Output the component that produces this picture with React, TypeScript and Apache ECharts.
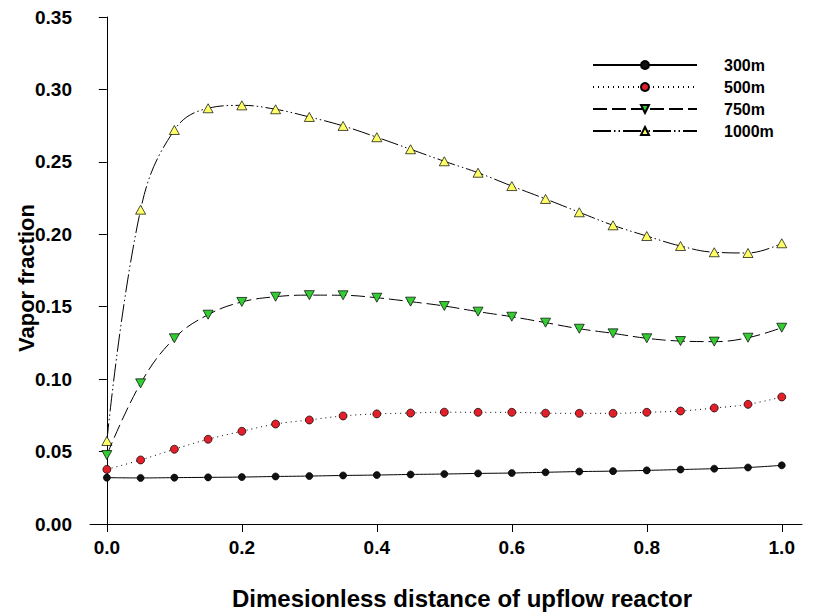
import React, { useEffect, useRef } from "react";
import * as echarts from "echarts";

const xPositions = [0, 0.05, 0.1, 0.15, 0.2, 0.25, 0.3, 0.35, 0.4, 0.45, 0.5, 0.55, 0.6, 0.65, 0.7, 0.75, 0.8, 0.85, 0.9, 0.95, 1.0];

const v300 = [0.032, 0.0318, 0.032, 0.0322, 0.0324, 0.0328, 0.0331, 0.0335, 0.0338, 0.0342, 0.0345, 0.0349, 0.0352, 0.0357, 0.0362, 0.0365, 0.037, 0.0376, 0.0382, 0.039, 0.0405];
const v500 = [0.0377, 0.0442, 0.0516, 0.0585, 0.064, 0.069, 0.0718, 0.0746, 0.076, 0.0766, 0.0772, 0.0771, 0.0771, 0.0765, 0.0764, 0.0764, 0.0771, 0.078, 0.0801, 0.0826, 0.0877];
const v750 = [0.0476, 0.0971, 0.1282, 0.1445, 0.1533, 0.1569, 0.158, 0.1579, 0.1562, 0.1535, 0.1505, 0.1466, 0.1431, 0.139, 0.1348, 0.1316, 0.1282, 0.1263, 0.1259, 0.1286, 0.1355];
const v1000 = [0.0573, 0.217, 0.272, 0.287, 0.289, 0.2863, 0.281, 0.2748, 0.267, 0.2587, 0.2504, 0.2425, 0.2333, 0.2244, 0.2152, 0.2062, 0.1988, 0.1919, 0.1876, 0.1871, 0.1938];

const seriesNames = ["300m", "500m", "750m", "1000m"];
const xTickValues = [0, 0.2, 0.4, 0.6, 0.8, 1.0];

const FONT = "'Liberation Sans', Arial, sans-serif";

export default function App() {
  const ref = useRef<HTMLDivElement>(null);

  useEffect(() => {
    document.body.style.margin = "0";
    if (!ref.current) return;
    const chart = echarts.init(ref.current, null, { renderer: "svg" });
    const toPairs = (vals: number[]) => xPositions.map((x, i) => [x, vals[i]]);

    const invTri = "path://M0,0L10,0L5,9Z";
    const upTri = "path://M5,0L10,9L0,9Z";

    chart.setOption({
      animation: false,
      backgroundColor: "#ffffff",
      grid: { left: 90, right: 14, top: 17, bottom: 91, containLabel: false, outerBoundsMode: "none" },
      legend: {
        orient: "vertical",
        left: 587,
        top: 52,
        itemWidth: 104,
        itemHeight: 10,
        itemGap: 6,
        data: seriesNames,
        textStyle: {
          fontFamily: FONT,
          fontWeight: "bold",
          fontSize: 16,
          color: "#000",
          lineHeight: 16,
          padding: [0, 0, 0, 22],
        },
      },
      xAxis: {
        type: "value",
        min: -0.025,
        max: 1.03,
        splitLine: { show: false },
        axisLine: { show: true, onZero: true, lineStyle: { color: "#000", width: 1 } },
        axisTick: { show: true, length: 8, customValues: xTickValues, lineStyle: { color: "#000" } },
        axisLabel: {
          customValues: xTickValues,
          formatter: (v: number) => v.toFixed(1),
          margin: 14,
          fontFamily: FONT,
          fontWeight: "bold",
          fontSize: 19,
          color: "#000",
        },
        name: "Dimesionless distance of upflow reactor",
        nameLocation: "middle",
        nameGap: 62,
        nameTextStyle: {
          fontFamily: FONT,
          fontWeight: "bold",
          fontSize: 24,
          color: "#000",
          padding: [0, 0, 0, 32],
        },
      },
      yAxis: {
        type: "value",
        min: 0,
        max: 0.35,
        interval: 0.05,
        splitLine: { show: false },
        axisLine: { show: true, onZero: true, lineStyle: { color: "#000", width: 1 } },
        axisTick: { show: true, length: 8, lineStyle: { color: "#000" } },
        axisLabel: {
          formatter: (v: number) => v.toFixed(2),
          margin: 18,
          fontFamily: FONT,
          fontWeight: "bold",
          fontSize: 19,
          color: "#000",
        },
        name: "Vapor fraction",
        nameLocation: "middle",
        nameGap: 53,
        nameRotate: 90,
        nameMoveOverlap: false,
        nameTextStyle: {
          fontFamily: FONT,
          fontWeight: "bold",
          fontSize: 22,
          color: "#000",
          padding: [0, 15, 0, 0],
        },
      },
      series: [
        {
          name: seriesNames[0],
          type: "line",
          data: toPairs(v300),
          smooth: 0.4,
          symbol: "circle",
          symbolSize: 7,
          lineStyle: { color: "#000", width: 1, type: "solid" },
          itemStyle: { color: "#111", borderColor: "#000", borderWidth: 0.7 },
          z: 4,
        },
        {
          name: seriesNames[1],
          type: "line",
          data: toPairs(v500),
          smooth: 0.4,
          symbol: "circle",
          symbolSize: 8,
          lineStyle: { color: "#000", width: 1, type: [1, 4] },
          itemStyle: { color: "#e3202a", borderColor: "#000", borderWidth: 0.7 },
          z: 3,
        },
        {
          name: seriesNames[2],
          type: "line",
          data: toPairs(v750),
          smooth: 0.4,
          symbol: invTri,
          symbolSize: [10, 9],
          lineStyle: { color: "#000", width: 1, type: [14, 5] },
          itemStyle: { color: "#33cc33", borderColor: "#000", borderWidth: 0.7 },
          z: 2,
        },
        {
          name: seriesNames[3],
          type: "line",
          data: toPairs(v1000),
          smooth: 0.4,
          symbol: upTri,
          symbolSize: [10, 9],
          lineStyle: { color: "#000", width: 1, type: [18, 3, 1.5, 3, 1.5, 3] },
          itemStyle: { color: "#ffff66", borderColor: "#000", borderWidth: 0.7 },
          z: 1,
        },
      ],
    });

    return () => chart.dispose();
  }, []);

  return <div ref={ref} style={{ width: 816, height: 615 }} />;
}
